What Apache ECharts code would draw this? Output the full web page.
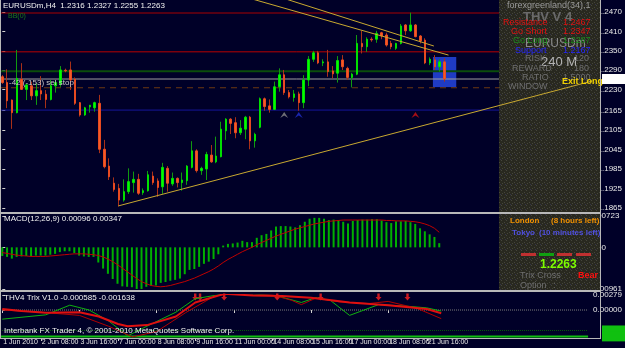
<!DOCTYPE html>
<html>
<head>
<meta charset="UTF-8">
<title>EURUSDm,H4</title>
<script src="https://cdn.jsdelivr.net/npm/echarts@6/dist/echarts.min.js"></script>
<style>
html, body { margin: 0; padding: 0; background: #000028; }
#chart { width: 625px; height: 348px; }
</style>
</head>
<body>
<div id="chart"></div>
<script>
// bottom time labels, one every 8 bars (H4)
var timeLabels = ['1 Jun 2010', '2 Jun 08:00', '3 Jun 16:00', '7 Jun 00:00', '8 Jun 08:00', '9 Jun 16:00',
  '11 Jun 00:00', '14 Jun 08:00', '15 Jun 16:00', '17 Jun 00:00', '18 Jun 08:00', '21 Jun 16:00'];
var priceTicks = [1.1865, 1.1925, 1.1985, 1.2045, 1.2105, 1.2165, 1.2230, 1.2290, 1.2350, 1.2410, 1.2470];
var macdTicks = [-0.00961, 0, 0.00723];
var trixTicks = [0, 0.00279];

var opens = [1.2270, 1.2252, 1.2198, 1.2159, 1.2262, 1.2231, 1.2242, 1.2211, 1.2227, 1.2216,
  1.2200, 1.2242, 1.2248, 1.2290, 1.2291, 1.2262, 1.2190, 1.2152, 1.2177, 1.2174,
  1.2188, 1.2046, 1.1994, 1.1941, 1.1925, 1.1889, 1.1915, 1.1943, 1.1953, 1.1912,
  1.1918, 1.1963, 1.1948, 1.1930, 1.1987, 1.1939, 1.1956, 1.1943, 1.1949, 1.1990,
  1.2041, 1.1980, 1.1985, 1.2028, 1.2007, 1.2023, 1.2103, 1.2139, 1.2128, 1.2097,
  1.2108, 1.2145, 1.2072, 1.2114, 1.2202, 1.2180, 1.2169, 1.2239, 1.2276, 1.2221,
  1.2206, 1.2217, 1.2190, 1.2260, 1.2324, 1.2344, 1.2313, 1.2316, 1.2288, 1.2281,
  1.2322, 1.2296, 1.2268, 1.2278, 1.2373, 1.2363, 1.2386, 1.2386, 1.2406, 1.2399,
  1.2373, 1.2358, 1.2373, 1.2430, 1.2412, 1.2430, 1.2396, 1.2383, 1.2313, 1.2322,
  1.2301, 1.2316];
var closes = [1.2252, 1.2196, 1.2159, 1.2265, 1.2231, 1.2245, 1.2211, 1.2227, 1.2217, 1.2200,
  1.2242, 1.2252, 1.2291, 1.2288, 1.2260, 1.2188, 1.2152, 1.2174, 1.2182, 1.2190,
  1.2046, 1.1992, 1.1961, 1.1922, 1.1889, 1.1915, 1.1946, 1.1953, 1.1910, 1.1918,
  1.1967, 1.1943, 1.1928, 1.1990, 1.1941, 1.1956, 1.1943, 1.1951, 1.1994, 1.2041,
  1.1980, 1.1987, 1.2030, 1.2007, 1.2025, 1.2108, 1.2139, 1.2126, 1.2097, 1.2111,
  1.2145, 1.2072, 1.2092, 1.2202, 1.2178, 1.2169, 1.2239, 1.2276, 1.2221, 1.2208,
  1.2217, 1.2190, 1.2260, 1.2324, 1.2344, 1.2313, 1.2316, 1.2286, 1.2279, 1.2320,
  1.2301, 1.2268, 1.2278, 1.2373, 1.2363, 1.2386, 1.2384, 1.2404, 1.2396, 1.2368,
  1.2363, 1.2373, 1.2427, 1.2412, 1.2430, 1.2394, 1.2381, 1.2313, 1.2324, 1.2301,
  1.2316, 1.2263];
var lows = [1.2248, 1.2173, 1.2109, 1.2157, 1.2229, 1.2198, 1.2198, 1.2183, 1.2198, 1.2173,
  1.2197, 1.2221, 1.2239, 1.2284, 1.2229, 1.2183, 1.2147, 1.2149, 1.2159, 1.2162,
  1.2034, 1.1987, 1.1951, 1.1915, 1.1869, 1.1884, 1.1908, 1.1912, 1.1905, 1.1905,
  1.1915, 1.1936, 1.1899, 1.1908, 1.1915, 1.1933, 1.1928, 1.1918, 1.1936, 1.1987,
  1.1974, 1.1967, 1.1951, 1.2004, 1.2003, 1.2021, 1.2075, 1.2093, 1.2080, 1.2090,
  1.2077, 1.2046, 1.2051, 1.2111, 1.2165, 1.2159, 1.2167, 1.2224, 1.2214, 1.2203,
  1.2193, 1.2165, 1.2173, 1.2241, 1.2316, 1.2309, 1.2303, 1.2270, 1.2265, 1.2252,
  1.2291, 1.2260, 1.2237, 1.2275, 1.2342, 1.2347, 1.2378, 1.2375, 1.2386, 1.2363,
  1.2355, 1.2353, 1.2370, 1.2399, 1.2409, 1.2392, 1.2373, 1.2309, 1.2306, 1.2291,
  1.2286, 1.2255];
var highs = [1.2275, 1.2293, 1.2200, 1.2353, 1.2312, 1.2247, 1.2255, 1.2250, 1.2272, 1.2229,
  1.2260, 1.2260, 1.2303, 1.2295, 1.2317, 1.2268, 1.2192, 1.2177, 1.2183, 1.2193,
  1.2214, 1.2075, 1.2018, 1.1959, 1.1939, 1.1953, 1.1987, 1.1977, 1.1970, 1.1925,
  1.1979, 1.1977, 1.1956, 1.2004, 1.1994, 1.1974, 1.1959, 1.1974, 1.1997, 1.2071,
  1.2046, 1.1992, 1.2038, 1.2059, 1.2085, 1.2131, 1.2142, 1.2142, 1.2145, 1.2136,
  1.2149, 1.2149, 1.2097, 1.2206, 1.2206, 1.2200, 1.2255, 1.2296, 1.2291, 1.2229,
  1.2229, 1.2224, 1.2275, 1.2334, 1.2350, 1.2350, 1.2324, 1.2353, 1.2303, 1.2334,
  1.2337, 1.2301, 1.2282, 1.2399, 1.2412, 1.2392, 1.2392, 1.2412, 1.2409, 1.2406,
  1.2381, 1.2375, 1.2433, 1.2433, 1.2468, 1.2433, 1.2399, 1.2389, 1.2330, 1.2337,
  1.2324, 1.2327];

var macdMain = [-0.0020, -0.0022, -0.0026, -0.0022, -0.0021, -0.0020, -0.0020, -0.0019, -0.0019, -0.0019,
  -0.0017, -0.0015, -0.0011, -0.0009, -0.0009, -0.0013, -0.0019, -0.0021, -0.0022, -0.0022,
  -0.0035, -0.0049, -0.0061, -0.0073, -0.0084, -0.0090, -0.0091, -0.0092, -0.0096, -0.0096,
  -0.0091, -0.0089, -0.0088, -0.0082, -0.0080, -0.0077, -0.0075, -0.0072, -0.0062, -0.0052,
  -0.0050, -0.0045, -0.0038, -0.0033, -0.0027, -0.0016, 0.0004, 0.0008, 0.0009, 0.0011,
  0.0015, 0.0012, 0.0012, 0.0022, 0.0028, 0.0031, 0.0039, 0.0048, 0.0049, 0.0049,
  0.0048, 0.0046, 0.0051, 0.0059, 0.0066, 0.0068, 0.0068, 0.0066, 0.0063, 0.0064,
  0.0063, 0.0059, 0.0055, 0.0061, 0.0063, 0.0064, 0.0064, 0.0065, 0.0065, 0.0062,
  0.0058, 0.0056, 0.0060, 0.0060, 0.0061, 0.0058, 0.0054, 0.0044, 0.0037, 0.0030,
  0.0024, 0.00096];
var macdSignal = [-0.0012, -0.0014, -0.0016, -0.0018, -0.0019, -0.0020, -0.0021, -0.0021, -0.0021, -0.0021,
  -0.0020, -0.0019, -0.0018, -0.0017, -0.0016, -0.0015, -0.0015, -0.0015, -0.0016, -0.0017,
  -0.0019, -0.0022, -0.0027, -0.0033, -0.0040, -0.0048, -0.0056, -0.0064, -0.0072, -0.0079,
  -0.0084, -0.0088, -0.0090, -0.0091, -0.0090, -0.0088, -0.0085, -0.0082, -0.0079, -0.0075,
  -0.0071, -0.0066, -0.0061, -0.0056, -0.0050, -0.0043, -0.0035, -0.0028, -0.0022, -0.0016,
  -0.0010, -0.0005, 0.0000, 0.0006, 0.0011, 0.0016, 0.0021, 0.0026, 0.0030, 0.0034,
  0.0038, 0.0042, 0.0045, 0.0048, 0.0051, 0.0054, 0.0056, 0.0058, 0.0060, 0.0061,
  0.0062, 0.0063, 0.0063, 0.0063, 0.0063, 0.0063, 0.0063, 0.0063, 0.0063, 0.0063,
  0.0062, 0.0062, 0.0061, 0.0061, 0.0061, 0.0060, 0.0059, 0.0057, 0.0054, 0.0050,
  0.0044, 0.00347];

// trix pane, [bar, value] read at turning points
var trixRed = [[0, 0.0002], [4, -0.0002], [9, -0.0005], [16, -0.0004], [20, -0.0012], [24, -0.0026], [26, -0.0030],
  [30, -0.0028], [36, -0.0012], [40, 0.0014], [46, 0.0030], [52, 0.0027], [58, 0.0026], [64, 0.0023], [72, 0.0014],
  [80, 0.0009], [88, 0.0002], [91, -0.0006]];
var trixGreen = [[0, -0.0017], [9, -0.0009], [14, 0.0009], [18, 0.0000], [22, -0.0020], [26, -0.0048], [30, -0.0030],
  [36, -0.0004], [40, 0.0021], [46, 0.0030], [52, 0.0030], [57, 0.0026], [62, 0.0014], [65, 0.0023], [68, 0.0018],
  [72, -0.0010], [78, 0.0010], [84, 0.0007], [88, 0.0004], [91, -0.0002]];
var trixSignal = [[0, 0.0000], [8, -0.0004], [16, -0.0010], [22, -0.0030], [27, -0.0050], [32, -0.0040], [38, -0.0005],
  [44, 0.0026], [48, 0.0031], [56, 0.0028], [60, 0.0018], [62, 0.0010], [65, 0.0022], [70, 0.0015], [76, 0.0012],
  [80, 0.0016], [86, 0.0003], [91, -0.0016]];
var trixArrows = [40, 41, 46, 57, 66, 78, 84];
var trixLevelA = -0.0038, trixLevelB = -0.0049;

var resistance = 1.2467, goShort = 1.2347, goLong = 1.2287, support = 1.2167, sellStop = 1.2236;
// trend lines as [bar, price]
var lineA = [[51.5, 1.2510], [91.8, 1.2337]];
var lineB = [[58.4, 1.2510], [88.8, 1.2365]];
var lineLow = [[23.9, 1.1871], [121.4, 1.2257]];
var signalArrows = [[58, 1.2152, '#8a8a8a'], [61, 1.2152, '#2030d0'], [85, 1.2152, '#d01010']];
var boxArea = [88.6, 93.4, 1.2238, 1.2331];

var last = closes.length - 1;
var candles = [], bodies = [];
for (var i = 0; i < opens.length; i++) {
  candles.push([i, opens[i], closes[i], lows[i], highs[i]]);
  bodies.push([i, opens[i], closes[i], Math.min(opens[i], closes[i]), Math.max(opens[i], closes[i])]);
}
var macdBars = macdMain.map(function (v, i) { return [i, v]; });
var macdSig = macdSignal.map(function (v, i) { return [i, v]; });

var xMin = -0.47, xMax = 121.44;
var font = 'Liberation Sans, Arial, sans-serif';
var narrow = '"Liberation Sans Narrow", "Arial Narrow", "Liberation Sans", sans-serif';
var evenSteps = [], oddSteps = [];
timeLabels.forEach(function (t, k) { (k % 2 ? oddSteps : evenSteps).push(k * 8); });

// time axis; labels split over two axes so neighbours never get dropped
function xAxisFor(idx, steps) {
  return {
    type: 'value', gridIndex: idx, min: xMin, max: xMax, position: 'bottom',
    axisLine: { show: false }, splitLine: { show: false },
    axisTick: steps ? { show: true, customValues: steps, length: 3, lineStyle: { color: '#d0d0d0' } } : { show: false },
    axisLabel: steps ? {
      show: true, customValues: steps, showMinLabel: true, showMaxLabel: true,
      formatter: function (v) { return timeLabels[Math.round(v / 8)]; },
      color: '#e8e8e8', fontSize: 7, fontFamily: narrow, align: 'left', margin: 1, padding: [0, 0, 0, 1]
    } : { show: false }
  };
}
function yAxisFor(idx, min, max, ticks, fmt) {
  return {
    type: 'value', gridIndex: idx, position: 'right', min: min, max: max,
    axisLine: { show: false }, splitLine: { show: false },
    axisTick: { show: true, customValues: ticks, length: 3, lineStyle: { color: '#d0d0d0' } },
    axisLabel: { show: true, customValues: ticks, showMinLabel: true, showMaxLabel: true, formatter: fmt,
      color: '#e8e8e8', fontSize: 8, fontFamily: font, margin: 5 }
  };
}

function txt(x, y, s, color, size, bold) {
  return { type: 'text', x: x, y: y, z: 20, style: { text: s, fill: color, font: (bold ? 'bold ' : '') + size + 'px ' + font, textVerticalAlign: 'middle' } };
}

// speckled grey fill of the info panel
var speck = document.createElement('canvas');
speck.width = 5; speck.height = 5;
var sc = speck.getContext('2d');
sc.fillStyle = '#28281f'; sc.fillRect(0, 0, 5, 5);
sc.fillStyle = '#45453c'; sc.fillRect(1, 0, 1, 1); sc.fillRect(4, 2, 1, 1); sc.fillRect(2, 3, 1, 1);
sc.fillStyle = '#34344a'; sc.fillRect(0, 4, 1, 1);

var panel = [
  { type: 'rect', shape: { x: 499, y: 0, width: 102, height: 290 }, style: { fill: { image: speck, repeat: 'repeat' } }, z: 10 },
  txt(507, 6, 'forexgreenland(34),1', '#9a9a9a', 9),
  txt(523, 17, 'THV V 4', '#6a6a6a', 13, true),
  txt(525, 44, 'EURUSDm', '#8a8a8a', 12),
  txt(541, 62, '240 M', '#b4b4b4', 13),
  txt(503, 23, 'Resistance', '#e01010', 9), txt(563, 23, resistance.toFixed(4), '#e01010', 9),
  txt(511, 32, 'Go Short', '#e01010', 9), txt(563, 32, goShort.toFixed(4), '#e01010', 9),
  txt(513, 41, 'Go Long', '#1a8a1a', 9), txt(563, 41, goLong.toFixed(4), '#1a8a1a', 9),
  txt(515, 51, 'Support', '#2424ff', 9), txt(563, 51, support.toFixed(4), '#2424ff', 9),
  txt(525, 59, 'RISK', '#6e6e6e', 9), txt(574, 59, '120', '#6e6e6e', 9),
  txt(512, 69, 'REWARD', '#6e6e6e', 9), txt(574, 69, '180', '#6e6e6e', 9),
  txt(522, 78, 'RATIO', '#6e6e6e', 9), txt(563, 78, '1.5000', '#6e6e6e', 9),
  txt(508, 87, 'WINDOW', '#6e6e6e', 9),
  txt(562, 82, 'Exit Long', '#f0d000', 9, true),
  txt(510, 221, 'London', '#f09000', 8, true), txt(551, 221, '(8 hours left)', '#f09000', 8, true),
  txt(512, 233, 'Tokyo', '#5050e0', 8, true), txt(539, 233, '(10 minutes left)', '#5050e0', 8, true),
  { type: 'rect', shape: { x: 521, y: 253, width: 15, height: 3 }, style: { fill: '#c03030' }, z: 20 },
  { type: 'rect', shape: { x: 539, y: 253, width: 15, height: 3 }, style: { fill: '#10a010' }, z: 20 },
  { type: 'rect', shape: { x: 557, y: 253, width: 15, height: 3 }, style: { fill: '#c03030' }, z: 20 },
  { type: 'rect', shape: { x: 576, y: 253, width: 15, height: 3 }, style: { fill: '#c03030' }, z: 20 },
  txt(540, 265, closes[last].toFixed(4), '#7cfc00', 12, true),
  txt(520, 276, 'Trix Cross', '#6e6e6e', 9), txt(553, 276, ':', '#6e6e6e', 9), txt(578, 276, 'Bear', '#ff1010', 9, true),
  txt(520, 286, 'Option', '#6e6e6e', 9), txt(553, 286, ':', '#6e6e6e', 9),
  // window frame
  { type: 'rect', shape: { x: 0, y: 212, width: 601, height: 2 }, style: { fill: '#b8b8b8' }, z: 30 },
  { type: 'rect', shape: { x: 0, y: 290, width: 601, height: 2 }, style: { fill: '#b8b8b8' }, z: 30 },
  { type: 'rect', shape: { x: 0, y: 338, width: 601, height: 1 }, style: { fill: '#b8b8b8' }, z: 30 },
  { type: 'rect', shape: { x: 600, y: 0, width: 1, height: 339 }, style: { fill: '#b8b8b8' }, z: 30 },
  { type: 'rect', shape: { x: 0, y: 0, width: 1, height: 339 }, style: { fill: '#b8b8b8' }, z: 30 },
  // pane titles
  txt(3, 6, 'EURUSDm,H4  1.2316 1.2327 1.2255 1.2263', '#f0f0f0', 8),
  txt(8, 16, 'BB(0)', '#1a7a1a', 7),
  txt(9, 83, '-42 (-153) sel stop', '#c8c8c8', 8),
  txt(4, 219, 'MACD(12,26,9) 0.00096 0.00347', '#f0f0f0', 8),
  txt(4, 298, 'THV4 Trix V1.0 -0.000585 -0.001638', '#f0f0f0', 8),
  txt(4, 331, 'Interbank FX Trader 4, \u00a9 2001-2010 MetaQuotes Software Corp.', '#f0f0f0', 8)
];

// horizontal level drawn as a two-point line across the whole pane
function level(name, axis, v, color, width, type, z) {
  return { name: name, type: 'line', xAxisIndex: axis, yAxisIndex: axis, data: [[xMin, v], [xMax, v]],
    symbol: 'none', silent: true, z: z || 1, lineStyle: { color: color, width: width, type: type || 'solid' } };
}

var chart = echarts.init(document.getElementById('chart'));
var option = {
  backgroundColor: '#000028',
  animation: false,
  grid: [
    { left: 0, width: 601, top: 0, height: 212 },
    { left: 0, width: 601, top: 216, height: 73 },
    { left: 0, width: 601, top: 295, height: 43 }
  ],
  xAxis: [xAxisFor(0), xAxisFor(1), xAxisFor(2, evenSteps), xAxisFor(2, oddSteps)],
  yAxis: [
    yAxisFor(0, 1.18521, 1.25072, priceTicks, function (v) { return v.toFixed(4); }),
    yAxisFor(1, -0.00961, 0.00723, macdTicks, function (v) { return v === 0 ? '0.00' : v.toFixed(5); }),
    yAxisFor(2, -0.0052, 0.00279, trixTicks, function (v) { return v.toFixed(5); })
  ],
  graphic: panel,
  series: [
    {
      name: 'box', type: 'line', xAxisIndex: 0, yAxisIndex: 0, data: [], z: 1,
      markArea: {
        silent: true, itemStyle: { color: '#1f3bc4' },
        data: [[{ coord: [boxArea[0], boxArea[2]] }, { coord: [boxArea[1], boxArea[3]] }]]
      }
    },
    level('resistance', 0, resistance, '#a80000', 1),
    level('goShort', 0, goShort, '#b80000', 1),
    level('goLong', 0, goLong, '#0b4d0b', 2),
    level('bid', 0, closes[last], '#a0a0a0', 1),
    level('sellStop', 0, sellStop, '#6e3810', 1, [6, 5]),
    level('support', 0, support, '#15159a', 1),
    {
      name: 'wicks', type: 'candlestick', xAxisIndex: 0, yAxisIndex: 0, data: candles, barWidth: 1, z: 3,
      itemStyle: { color: '#109a10', color0: '#a83018', borderColor: '#109a10', borderColor0: '#a83018', borderWidth: 1 }
    },
    {
      name: 'bodies', type: 'candlestick', xAxisIndex: 0, yAxisIndex: 0, data: bodies, barWidth: 2, z: 4,
      itemStyle: { color: '#00ff00', color0: '#f25c28', borderColor: '#00e000', borderColor0: '#e84a20', borderWidth: 1 }
    },
    { name: 'lineA', type: 'line', xAxisIndex: 0, yAxisIndex: 0, data: lineA, symbol: 'none', z: 5,
      lineStyle: { color: '#c8a830', width: 1 } },
    { name: 'lineB', type: 'line', xAxisIndex: 0, yAxisIndex: 0, data: lineB, symbol: 'none', z: 5,
      lineStyle: { color: '#c8a830', width: 1 } },
    { name: 'lineLow', type: 'line', xAxisIndex: 0, yAxisIndex: 0, data: lineLow, symbol: 'none', z: 15,
      lineStyle: { color: '#c8a830', width: 1 } },
    {
      name: 'arrows', type: 'scatter', xAxisIndex: 0, yAxisIndex: 0, z: 6,
      symbol: 'path://M0,10 L5,0 L10,10 L5,6 Z', symbolSize: [8, 6],
      data: signalArrows.map(function (a) { return { value: [a[0], a[1]], itemStyle: { color: a[2] } }; })
    },
    { name: 'MACD', type: 'bar', xAxisIndex: 1, yAxisIndex: 1, data: macdBars, barWidth: 2,
      itemStyle: { color: '#00b000' } },
    { name: 'Signal', type: 'line', xAxisIndex: 1, yAxisIndex: 1, data: macdSig, symbol: 'none',
      lineStyle: { color: '#c00000', width: 1 } },
    level('trixZero', 2, 0, '#7a7a7a', 1, 'dotted'),
    level('trixLevelA', 2, trixLevelA, '#0a5a0a', 1, 'dotted'),
    level('trixLevelB', 2, trixLevelB, '#10c010', 2),
    { name: 'trixGreen', type: 'line', xAxisIndex: 2, yAxisIndex: 2, data: trixGreen, symbol: 'none',
      lineStyle: { color: '#10b010', width: 1 } },
    { name: 'trixSignal', type: 'line', xAxisIndex: 2, yAxisIndex: 2, data: trixSignal, symbol: 'none',
      lineStyle: { color: '#b00000', width: 1 } },
    { name: 'trixRed', type: 'line', xAxisIndex: 2, yAxisIndex: 2, data: trixRed, symbol: 'none',
      lineStyle: { color: '#e01010', width: 2 } },
    {
      name: 'trixArrows', type: 'scatter', xAxisIndex: 2, yAxisIndex: 2,
      symbol: 'path://M3,0 L7,0 L7,5 L10,5 L5,10 L0,5 L3,5 Z', symbolSize: [6, 7],
      itemStyle: { color: '#ff2020' },
      data: trixArrows.map(function (b) { return [b, 0.0024]; })
    }
  ]
};
chart.setOption(option);

// value tags on the right scale, placed through the axes
function tag(axis, v, text, bg, fg) {
  var y = chart.convertToPixel({ yAxisIndex: axis }, v);
  return [
    { type: 'rect', shape: { x: 602, y: y - 5, width: 23, height: 10 }, style: { fill: bg }, z: 40 },
    txt(603, y, text, fg, 8)
  ];
}
chart.setOption({
  graphic: panel
    .concat(tag(0, closes[last], closes[last].toFixed(4), '#ffffff', '#000000'))
    .concat(tag(2, trixLevelA, trixLevelA.toFixed(4), '#10c010', '#000000'))
    .concat(tag(2, trixLevelB, trixLevelB.toFixed(4), '#10c010', '#000000'))
});
</script>
</body>
</html>
